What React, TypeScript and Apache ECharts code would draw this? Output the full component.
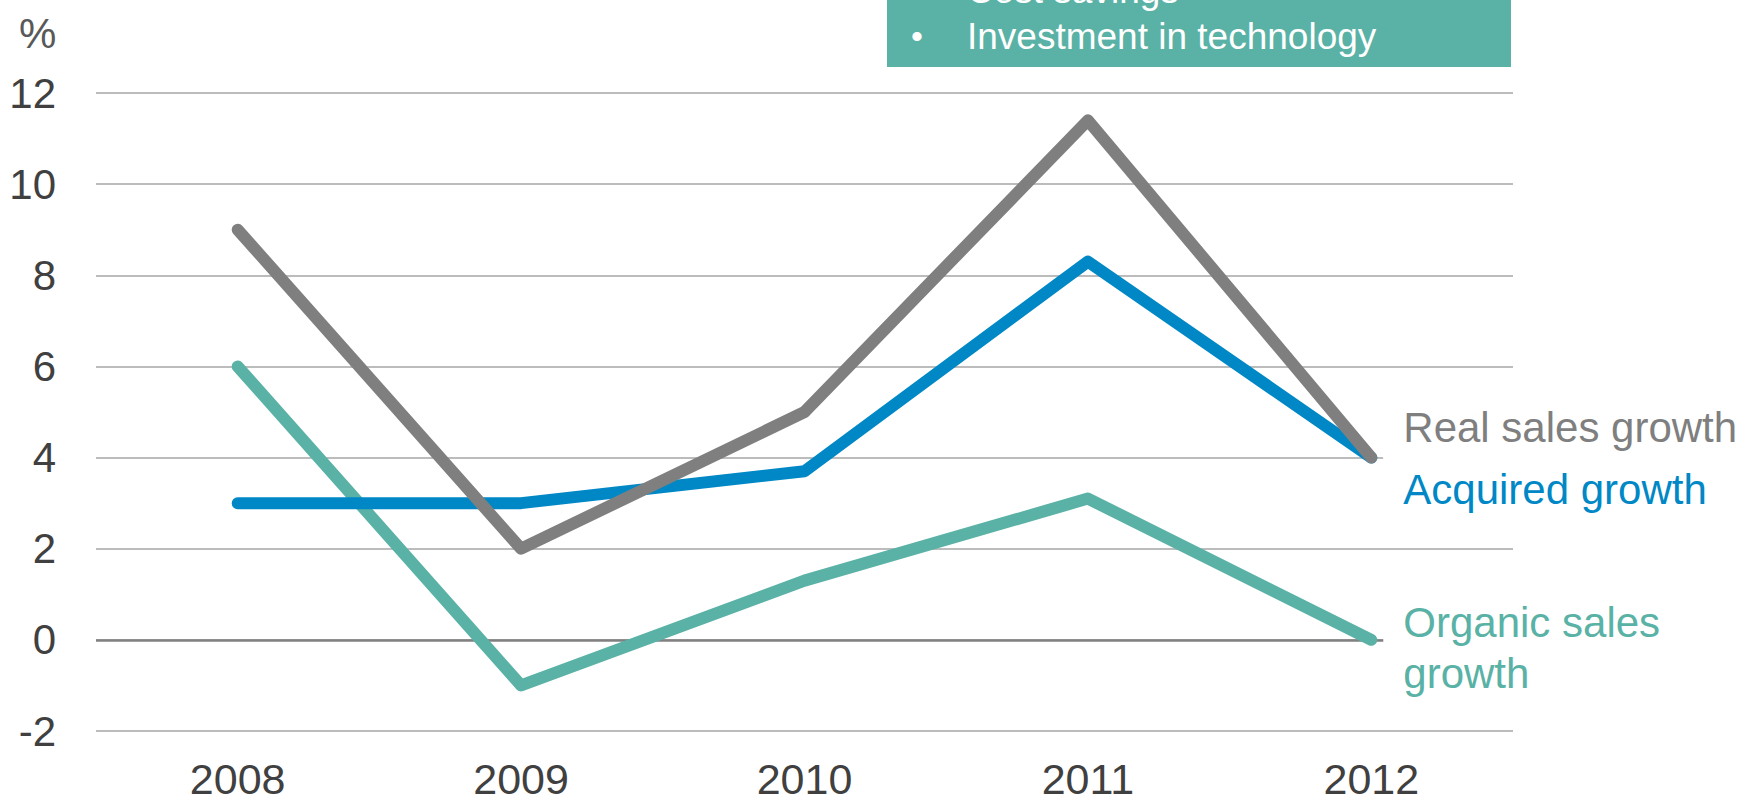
import React, { useEffect, useRef } from "react";
import * as echarts from "echarts";

const years = ["2008", "2009", "2010", "2011", "2012"];
const realSales = [9, 2, 5, 11.4, 4];
const acquired = [3, 3, 3.7, 8.3, 4];
const organic = [6, -1, 1.3, 3.1, 0];
const yTicks = { min: -2, max: 12, interval: 2 };
const bullets = ["Cost savings", "Investment in technology"];

const FONT = "Liberation Sans, Arial, Helvetica, sans-serif";
const GRAY = "#7f7f7f";
const BLUE = "#0088c6";
const TEAL = "#59b2a5";

export default function App() {
  const ref = useRef<HTMLDivElement>(null);
  useEffect(() => {
    if (!ref.current) return;
    const chart = echarts.init(ref.current, undefined, { renderer: "svg" });
    const lineSeries = (name: string, data: number[], color: string, label: string, dy: number, extra: any = {}) => ({
      name,
      type: "line",
      data,
      symbol: "none",
      z: 3,
      lineStyle: { color, width: 12, cap: "round", join: "round" },
      endLabel: {
        show: true,
        formatter: label,
        color,
        fontSize: 42,
        fontFamily: FONT,
        lineHeight: 51,
        align: "left",
        verticalAlign: "middle",
        distance: 12,
        offset: [0, dy],
        backgroundColor: "#ffffff",
        padding: [8, 20, 8, 20],
      },
      ...extra,
    });
    chart.setOption({
      animation: false,
      grid: { left: 96, right: 244, top: 93, bottom: 70 },
      xAxis: {
        type: "category",
        data: years,
        boundaryGap: true,
        axisLine: { show: false },
        axisTick: { show: false },
        axisLabel: { color: "#404040", fontSize: 43, lineHeight: 43, fontFamily: FONT, margin: 26 },
      },
      yAxis: {
        type: "value",
        min: yTicks.min,
        max: yTicks.max,
        interval: yTicks.interval,
        axisLine: { show: false },
        axisTick: { show: false },
        axisLabel: { color: "#404040", fontSize: 42, fontFamily: FONT, margin: 40 },
        splitLine: { lineStyle: { color: "#a6a6a6", width: 1.5 } },
      },
      series: [
        lineSeries("Organic sales growth", organic, TEAL, "Organic sales\ngrowth", 8, {
          markLine: {
            silent: true,
            symbol: "none",
            label: { show: false },
            z: 1,
            lineStyle: { color: "#808080", width: 2.5, type: "solid" },
            data: [{ yAxis: 0 }],
          },
        }),
        lineSeries("Acquired growth", acquired, BLUE, "Acquired growth", 32),
        lineSeries("Real sales growth", realSales, GRAY, "Real sales growth", -30),
      ],
      graphic: [
        {
          type: "text",
          left: 19,
          top: 12,
          style: { text: "%", fill: "#595959", font: `42px ${FONT}` },
        },
        {
          type: "rect",
          x: 887,
          y: -60,
          shape: { x: 0, y: 0, width: 624, height: 127 },
          style: { fill: TEAL },
          z: 10,
        },
        { type: "text", x: 911, y: -10, z: 11, style: { text: "•", fill: "#ffffff", font: `34px ${FONT}`, verticalAlign: "middle" } },
        { type: "text", x: 967, y: -10, z: 11, style: { text: bullets[0], fill: "#ffffff", font: `37px ${FONT}`, verticalAlign: "middle" } },
        { type: "text", x: 911, y: 36, z: 11, style: { text: "•", fill: "#ffffff", font: `34px ${FONT}`, verticalAlign: "middle" } },
        { type: "text", x: 967, y: 36, z: 11, style: { text: bullets[1], fill: "#ffffff", font: `37px ${FONT}`, verticalAlign: "middle" } },
      ],
    });
    return () => chart.dispose();
  }, []);
  return <div ref={ref} style={{ position: "absolute", left: 0, top: 0, width: 1757, height: 801 }} />;
}
